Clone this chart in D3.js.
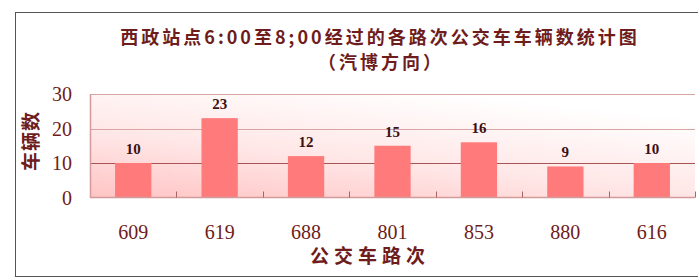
<!DOCTYPE html>
<html>
<head>
<meta charset="utf-8">
<script src="https://cdn.jsdelivr.net/npm/d3@7"></script>
<style>
  body { margin: 0; background: #fff; }
  text { font-family: "Liberation Serif", "Noto Sans CJK SC", serif; }
</style>
</head>
<body>
<div id="chart"></div>
<script>
// Data
var routes = ["609", "619", "688", "801", "853", "880", "616"];
var buses = [10, 23, 12, 15, 16, 9, 10];
var yTicks = [0, 10, 20, 30];

function init() {
    var w = 698;
    var h = 278;
    var textColor = "#6e1c1c";

    var svg = d3.select("#chart")
        .append("svg")
        .attr("width", w)
        .attr("height", h);

    // Background gradient for plot area
    var defs = svg.append("defs");
    var grad = defs.append("linearGradient")
        .attr("id", "bg")
        .attr("x1", "0").attr("y1", "1")
        .attr("x2", "0.6").attr("y2", "0");
    grad.append("stop").attr("offset", "0%").attr("stop-color", "#ffc4c4");
    grad.append("stop").attr("offset", "45%").attr("stop-color", "#ffe6e6");
    grad.append("stop").attr("offset", "100%").attr("stop-color", "#ffffff");

    // Outer frame
    svg.append("rect")
        .attr("x", 15.5)
        .attr("y", 12.5)
        .attr("width", 700)
        .attr("height", 264)
        .attr("fill", "#fff")
        .attr("stroke", "#555")
        .attr("stroke-width", 1);

    // Scales
    var x = d3.scaleBand()
        .domain(routes)
        .range([90, 695])
        .paddingInner(0.58)
        .paddingOuter(0.29);

    var y = d3.scaleLinear()
        .domain([0, 30])
        .range([197.5, 94]);

    // Plot background
    svg.append("rect")
        .attr("x", 90)
        .attr("y", y(30))
        .attr("width", 605)
        .attr("height", y(0) - y(30))
        .attr("fill", "url(#bg)");

    // Gridlines
    svg.selectAll(".grid")
        .data(yTicks.filter(function (d) { return d > 0; }))
        .enter()
        .append("line")
        .attr("x1", 90)
        .attr("x2", 695)
        .attr("y1", function (d) { return Math.round(y(d)) + 0.5; })
        .attr("y2", function (d) { return Math.round(y(d)) + 0.5; })
        .attr("stroke", function (d) { return d == 10 ? "#a85454" : "#d8a4a4"; })
        .attr("stroke-width", 1.2);

    // Bars
    svg.selectAll(".bar")
        .data(buses)
        .enter()
        .append("rect")
        .attr("x", function (d, i) { return x(routes[i]); })
        .attr("y", function (d) { return y(d); })
        .attr("width", x.bandwidth())
        .attr("height", function (d) { return y(0) - y(d); })
        .attr("fill", "#ff7b7b");

    // Axis lines
    svg.append("line")
        .attr("x1", 90.5).attr("x2", 90.5)
        .attr("y1", y(30)).attr("y2", y(0))
        .attr("stroke", "#d29a9a").attr("stroke-width", 1.5);
    svg.append("line")
        .attr("x1", 90).attr("x2", 695)
        .attr("y1", y(0)).attr("y2", y(0))
        .attr("stroke", "#d29a9a").attr("stroke-width", 1.5);

    // Category boundary ticks
    var step = x.step();
    svg.selectAll(".tick-mark")
        .data(routes)
        .enter()
        .append("line")
        .attr("x1", function (d, i) { return Math.round(90 + (i + 1) * step) + 0.5; })
        .attr("x2", function (d, i) { return Math.round(90 + (i + 1) * step) + 0.5; })
        .attr("y1", y(0) - 6)
        .attr("y2", y(0))
        .attr("stroke", "#a86464")
        .attr("stroke-width", 1);

    // Value labels
    svg.selectAll(".val")
        .data(buses)
        .enter()
        .append("text")
        .attr("x", function (d, i) { return x(routes[i]) + x.bandwidth() / 2; })
        .attr("y", function (d) { return y(d) - 9; })
        .attr("text-anchor", "middle")
        .style("font-size", "15px")
        .style("font-weight", "bold")
        .style("fill", "#3a1010")
        .text(function (d) { return d; });

    // Y tick labels
    svg.selectAll(".ylab")
        .data(yTicks)
        .enter()
        .append("text")
        .attr("x", 72)
        .attr("y", function (d) { return y(d) + 7; })
        .attr("text-anchor", "end")
        .style("font-size", "20px")
        .style("fill", textColor)
        .text(function (d) { return d; });

    // X tick labels
    svg.selectAll(".xlab")
        .data(routes)
        .enter()
        .append("text")
        .attr("x", function (d) { return x(d) + x.bandwidth() / 2; })
        .attr("y", 239)
        .attr("text-anchor", "middle")
        .style("font-size", "20px")
        .style("fill", textColor)
        .text(function (d) { return d; });

    // Titles
    svg.append("text")
        .attr("x", 380)
        .attr("y", 44)
        .attr("text-anchor", "middle")
        .style("font-family", "'Noto Sans CJK SC', sans-serif")
        .style("font-size", "18px")
        .style("font-weight", "bold")
        .style("letter-spacing", "3px")
        .style("fill", textColor)
        .text("西政站点6:00至8;00经过的各路次公交车车辆数统计图");

    svg.append("text")
        .attr("x", 381)
        .attr("y", 69)
        .attr("text-anchor", "middle")
        .style("font-family", "'Noto Sans CJK SC', sans-serif")
        .style("font-size", "18px")
        .style("font-weight", "bold")
        .style("letter-spacing", "3px")
        .style("fill", textColor)
        .text("（汽博方向）");

    svg.append("text")
        .attr("x", 370)
        .attr("y", 263)
        .attr("text-anchor", "middle")
        .style("font-family", "'Noto Sans CJK SC', sans-serif")
        .style("font-size", "19px")
        .style("font-weight", "bold")
        .style("letter-spacing", "5px")
        .style("fill", textColor)
        .text("公交车路次");

    svg.append("text")
        .attr("transform", "translate(38,141) rotate(-90)")
        .attr("text-anchor", "middle")
        .style("font-family", "'Noto Sans CJK SC', sans-serif")
        .style("font-size", "19px")
        .style("font-weight", "bold")
        .style("letter-spacing", "1px")
        .style("fill", textColor)
        .text("车辆数");
}

window.onload = init;
</script>
</body>
</html>
